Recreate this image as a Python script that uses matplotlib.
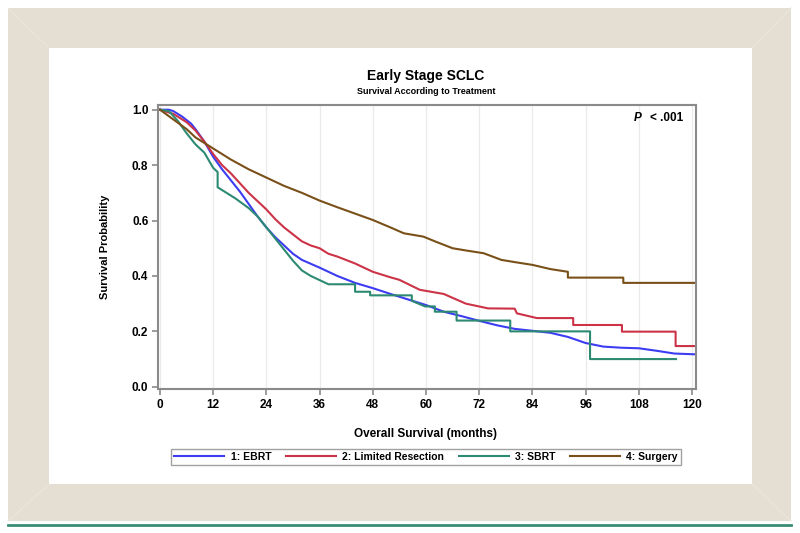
import matplotlib
matplotlib.use("Agg")
import matplotlib.pyplot as plt
from matplotlib.patches import Rectangle

plt.rcParams['font.family'] = ['Liberation Sans', 'DejaVu Sans']

# survival curves (months, survival probability)
ebrt_t = [0, 2, 3, 5, 7, 8, 10, 12, 14, 16, 18, 20, 22, 24, 26, 28, 30, 32, 36, 40, 44, 48,
          52, 56, 60, 64, 68, 72, 76, 80, 84, 88, 92, 96, 100, 104, 108, 112, 116, 121]
ebrt_s = [1.0, 1.0, 0.995, 0.975, 0.95, 0.93, 0.885, 0.83, 0.785, 0.745, 0.705, 0.66, 0.615,
          0.575, 0.54, 0.51, 0.48, 0.458, 0.43, 0.40, 0.375, 0.356, 0.335, 0.315, 0.295, 0.271,
          0.255, 0.238, 0.222, 0.209, 0.202, 0.195, 0.18, 0.158, 0.145, 0.141, 0.139, 0.13,
          0.12, 0.117]

resec_t = [0, 3, 6, 8, 10, 12, 14, 16, 18, 20, 22, 24, 26, 28, 30, 32, 34, 36, 38, 40, 44, 48,
           52, 54, 58.6, 64, 69, 74, 80, 80.5, 85, 93.2, 93.2, 104.2, 104.2, 116.3, 116.3, 121]
resec_s = [1.0, 0.985, 0.955, 0.925, 0.885, 0.84, 0.80, 0.77, 0.735, 0.70, 0.67, 0.64, 0.605,
           0.575, 0.55, 0.525, 0.51, 0.50, 0.48, 0.47, 0.445, 0.415, 0.395, 0.386, 0.35, 0.335,
           0.30, 0.283, 0.282, 0.265, 0.248, 0.248, 0.223, 0.223, 0.199, 0.199, 0.147, 0.147]

sbrt_t = [0, 2, 4, 6, 8, 10, 12, 13, 13, 15, 17, 20, 22, 24, 26, 28, 30, 32, 34, 36, 38, 44,
          44, 47.4, 47.4, 56.8, 56.8, 59.8, 62, 62, 66.9, 66.9, 79, 79, 97, 97, 116.4]
sbrt_s = [1.0, 0.995, 0.96, 0.915, 0.875, 0.845, 0.79, 0.775, 0.72, 0.70, 0.68, 0.645, 0.615,
          0.575, 0.535, 0.495, 0.455, 0.42, 0.40, 0.385, 0.37, 0.37, 0.343, 0.343, 0.33, 0.33,
          0.31, 0.29, 0.29, 0.271, 0.271, 0.239, 0.239, 0.20, 0.20, 0.10, 0.10]

surg_t = [0, 3, 6, 8, 12, 16, 20, 24, 28, 32, 36, 40, 44, 48, 52, 55, 59.4, 62, 66, 69, 73,
          77, 80, 84, 88, 92, 92, 104.5, 104.5, 121]
surg_s = [1.0, 0.965, 0.93, 0.90, 0.86, 0.82, 0.785, 0.755, 0.725, 0.70, 0.672, 0.648, 0.625,
          0.602, 0.575, 0.554, 0.542, 0.525, 0.50, 0.492, 0.482, 0.458, 0.45, 0.44, 0.425,
          0.415, 0.394, 0.394, 0.375, 0.375]

labels = ['1: EBRT', '2: Limited Resection', '3: SBRT', '4: Surgery']
colors = ['#3c3cf2', '#cc3347', '#2d8a72', '#7a5019']
xticks = [0, 12, 24, 36, 48, 60, 72, 84, 96, 108, 120]
yticks = [0.0, 0.2, 0.4, 0.6, 0.8, 1.0]

W, H = 800, 533
fig = plt.figure(figsize=(8, 5.33), dpi=100)

# decorative frame around the chart (pixel coordinates)
bg = fig.add_axes([0, 0, 1, 1])
bg.set_xlim(0, W)
bg.set_ylim(H, 0)
bg.axis('off')
beige = '#e5dfd3'
bg.add_patch(Rectangle((8, 8), 783, 513, facecolor=beige, edgecolor='none'))
bg.add_patch(Rectangle((49, 48), 703, 436, facecolor='white', edgecolor='none'))
for (x0, y0), (x1, y1) in [((8, 8), (49, 48)), ((791, 8), (752, 48)),
                           ((8, 521), (49, 484)), ((791, 521), (752, 484))]:
    bg.plot([x0, x1], [y0, y1], color='#ebe6dc', lw=0.8)
bg.plot([8, 791], [524.5, 524.5], color='#3a8c74', lw=2)

ax = fig.add_axes([158 / W, 1 - 389 / H, (696 - 158) / W, (389 - 105) / H])
series = [(ebrt_t, ebrt_s), (resec_t, resec_s), (sbrt_t, sbrt_s), (surg_t, surg_s)]
for (t, s), lab, c in zip(series, labels, colors):
    ax.plot(t, s, color=c, lw=1.5, label=lab)

ax.set_xlim(-0.45, 120.9)
ax.set_ylim(-0.008, 1.017)
ax.set_xticks(xticks)
ax.set_yticks(yticks)
ax.set_yticklabels(['%.1f' % v for v in yticks])
ax.grid(axis='x', color='#ebebeb', lw=1)
ax.set_axisbelow(True)
for sp in ax.spines.values():
    sp.set_color('#8a8a8a')
    sp.set_linewidth(1.5)
ax.tick_params(direction='out', length=4, width=1.2, color='#8a8a8a',
               labelsize=8.5, pad=3)
for lbl in ax.get_xticklabels() + ax.get_yticklabels():
    lbl.set_fontweight('bold')

fig.text(426 / W, 1 - 76 / H, 'Early Stage SCLC', ha='center', va='center',
         fontsize=10, fontweight='bold')
fig.text(426 / W, 1 - 91 / H, 'Survival According to Treatment', ha='center', va='center',
         fontsize=6.5, fontweight='bold')
fig.text(426 / W, 1 - 434 / H, 'Overall Survival (months)', ha='center', va='center',
         fontsize=8.5, fontweight='bold')
fig.text(105 / W, 1 - 247 / H, 'Survival Probability', ha='center', va='center',
         rotation=90, fontsize=8, fontweight='bold')
fig.text(642 / W, 1 - 118 / H, 'P', ha='right', va='center', fontsize=8.5,
         fontweight='bold', style='italic')
fig.text(683 / W, 1 - 118 / H, '< .001', ha='right', va='center', fontsize=8.5,
         fontweight='bold')

leg = fig.legend(loc='center', bbox_to_anchor=(426 / W, 1 - 457 / H), ncol=4,
                 fontsize=7.5, handlelength=4.8, columnspacing=1.4, handletextpad=0.6,
                 fancybox=False, edgecolor='#8a8a8a', borderpad=0.3)
for txt in leg.get_texts():
    txt.set_fontweight('bold')
leg.get_frame().set_linewidth(1.0)

fig.savefig('out.png', dpi=100)
